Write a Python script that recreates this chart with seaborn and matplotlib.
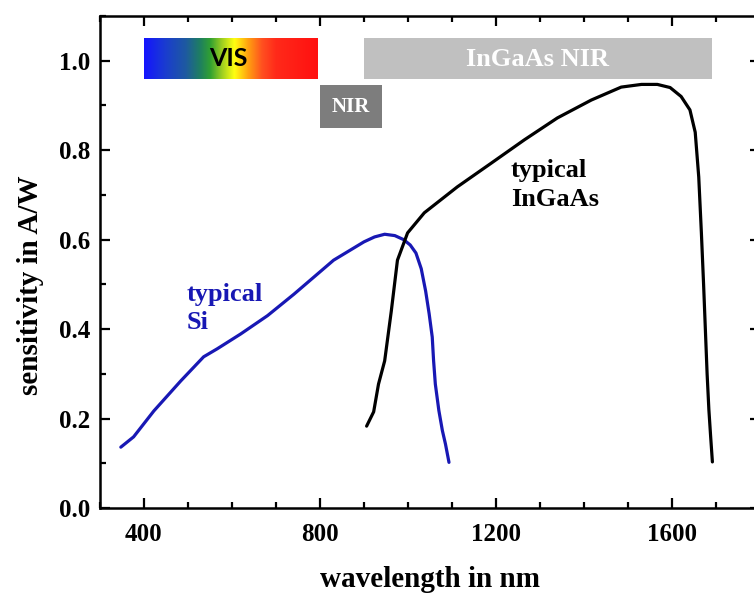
import numpy as np
import pandas as pd
import matplotlib
matplotlib.use("Agg")
import matplotlib.pyplot as plt
from matplotlib.colors import LinearSegmentedColormap
from matplotlib.ticker import MultipleLocator
import seaborn as sns

# Photodiode responsivity curves
si_wl = [348, 377, 423, 484, 536, 567, 620, 681, 741, 831, 900, 924, 947, 970, 990, 1005,
         1018, 1030, 1040, 1048, 1055, 1058, 1062, 1070, 1078, 1085, 1093]
si_resp = [0.136, 0.159, 0.217, 0.284, 0.338, 0.356, 0.389, 0.43, 0.478, 0.554, 0.595, 0.606,
           0.612, 0.609, 0.600, 0.588, 0.570, 0.535, 0.485, 0.434, 0.382, 0.33, 0.277, 0.218,
           0.173, 0.143, 0.102]

ingaas_wl = [906, 922, 933, 947, 962, 976, 999, 1037, 1112, 1189, 1264, 1339, 1416, 1484,
             1530, 1566, 1595, 1620, 1640, 1652, 1660, 1666, 1671, 1675, 1679, 1683, 1687,
             1691]
ingaas_resp = [0.183, 0.215, 0.277, 0.329, 0.44, 0.554, 0.615, 0.66, 0.718, 0.771, 0.823,
               0.872, 0.912, 0.941, 0.947, 0.947, 0.94, 0.92, 0.89, 0.84, 0.74, 0.615, 0.50,
               0.40, 0.30, 0.22, 0.16, 0.103]

# spectral bands: label, start, end
band_names = ["VIS", "NIR", "InGaAs NIR"]
band_start = [400, 800, 900]
band_end = [795, 942, 1690]

x_ticks = [400, 800, 1200, 1600]
y_ticks = [0.0, 0.2, 0.4, 0.6, 0.8, 1.0]

si = pd.DataFrame({"wavelength": si_wl, "sensitivity": si_resp})
ingaas = pd.DataFrame({"wavelength": ingaas_wl, "sensitivity": ingaas_resp})

sns.set_style("ticks", {"axes.edgecolor": "black", "xtick.color": "black",
                        "ytick.color": "black", "text.color": "black",
                        "axes.labelcolor": "black"})
plt.rcParams["font.family"] = ["Liberation Serif", "DejaVu Serif"]
plt.rcParams["font.weight"] = "bold"

fig = plt.figure(figsize=(7.54, 5.94), dpi=100)
ax = fig.add_axes([0.1322, 0.1448, 0.8763, 0.8283])

# VIS rainbow bar
vis_cmap = LinearSegmentedColormap.from_list(
    "vis", [(0.0, "#1414ff"), (0.12, "#1a3cd0"), (0.24, "#1e5aa0"), (0.32, "#1e7e62"),
            (0.38, "#30a032"), (0.45, "#a0d020"), (0.52, "#ffff10"), (0.60, "#ffa010"),
            (0.68, "#ff5020"), (0.76, "#ff2a1a"), (1.0, "#ff1010")])
grad = np.linspace(0, 1, 256).reshape(1, -1)
ax.imshow(grad, extent=[band_start[0], band_end[0], 0.96, 1.05], aspect="auto",
          cmap=vis_cmap, zorder=1)
ax.text((band_start[0] + band_end[0]) / 2 - 5, 1.004, band_names[0], ha="center", va="center",
        fontsize=18, fontweight="bold", family=["Lato", "DejaVu Sans"], color="black")

# NIR boxes
ax.fill_between([band_start[1], band_end[1]], 0.85, 0.945, color="#7d7d7d", lw=0, zorder=1)
ax.text((band_start[1] + band_end[1]) / 2, 0.897, band_names[1], ha="center", va="center",
        fontsize=15, color="white")
ax.fill_between([band_start[2], band_end[2]], 0.96, 1.05, color="#c0c0c0", lw=0, zorder=1)
ax.text((band_start[2] + band_end[2]) / 2, 1.002, band_names[2], ha="center", va="center",
        fontsize=19, color="white")

sns.lineplot(data=si, x="wavelength", y="sensitivity", sort=False, color="#1818b4",
             lw=2.3, ax=ax, zorder=3)
sns.lineplot(data=ingaas, x="wavelength", y="sensitivity", sort=False, color="black",
             lw=2.3, ax=ax, zorder=3)

ax.text(498, 0.503, "typical\nSi", ha="left", va="top", fontsize=19, color="#1818b4",
        linespacing=1.3)
ax.text(1234, 0.78, "typical\nInGaAs", ha="left", va="top", fontsize=19, color="black",
        linespacing=1.3)

ax.set_xlim(300, 1800)
ax.set_ylim(0, 1.1)
ax.set_xticks(x_ticks)
ax.set_yticks(y_ticks)
ax.set_yticklabels([f"{v:.1f}" for v in y_ticks])
ax.xaxis.set_minor_locator(MultipleLocator(100))
ax.yaxis.set_minor_locator(MultipleLocator(0.1))
ax.tick_params(which="both", direction="in", top=True, right=True, width=1.6,
               labelsize=18, colors="black")
ax.tick_params(which="major", length=7.5)
ax.tick_params(which="minor", length=4)
ax.tick_params(axis="x", pad=11)
ax.tick_params(axis="y", pad=7)
for s in ax.spines.values():
    s.set_linewidth(1.8)
    s.set_color("black")

ax.set_xlabel("wavelength in nm", fontsize=21, fontweight="bold", color="black")
ax.set_ylabel("sensitivity in A/W", fontsize=21, fontweight="bold", color="black")
ax.xaxis.set_label_coords(0.5, -0.117)
ax.yaxis.set_label_coords(-0.104, 0.453)
ax.yaxis.label.set_va("center")

fig.savefig("out.png", dpi=100)
